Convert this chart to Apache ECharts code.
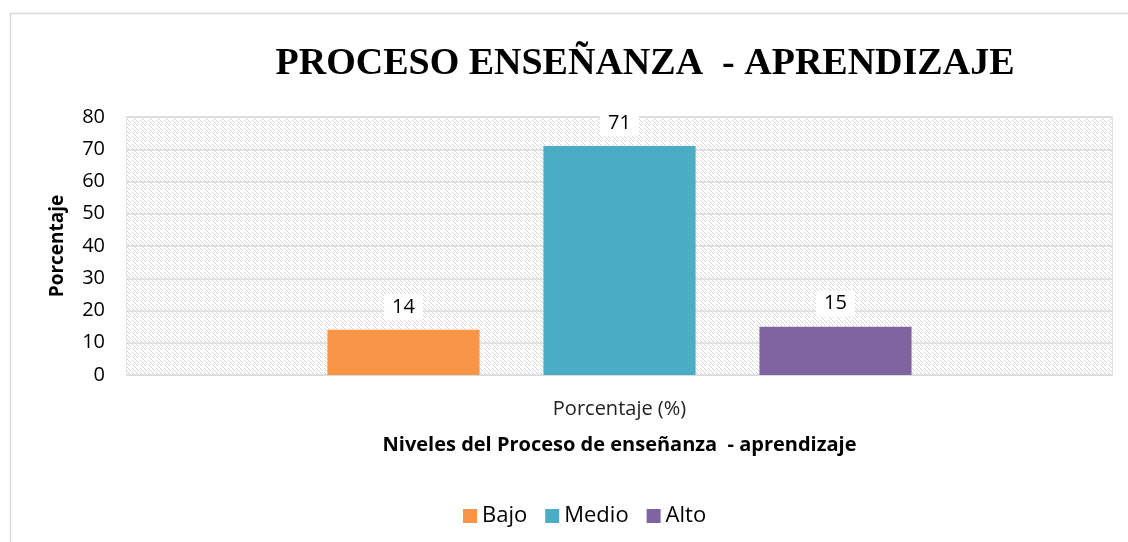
<!DOCTYPE html>
<html>
<head>
<meta charset="utf-8">
<script src="https://cdn.jsdelivr.net/npm/echarts@6/dist/echarts.min.js"></script>
<style>
  html, body { margin: 0; padding: 0; background: #fff; }
  #chart { width: 1128px; height: 542px; }
</style>
</head>
<body>
<div id="chart"></div>
<script>
  var categories = ['Porcentaje (%)'];
  var seriesNames = ['Bajo', 'Medio', 'Alto'];
  var seriesValues = [[14], [71], [15]];
  var seriesColors = ['#f79646', '#4bacc6', '#8064a2'];
  var yTicks = { min: 0, max: 80, interval: 10 };

  // hatch pattern for the plot background
  var pat = document.createElement('canvas');
  pat.width = 8; pat.height = 8;
  var ctx = pat.getContext('2d');
  ctx.fillStyle = '#ffffff';
  ctx.fillRect(0, 0, 8, 8);
  ctx.strokeStyle = '#d4d4d4';
  ctx.lineWidth = 1;
  ctx.beginPath();
  ctx.moveTo(0, 0); ctx.lineTo(3, 3);
  ctx.moveTo(4, 4); ctx.lineTo(8, 8);
  ctx.moveTo(4, 0); ctx.lineTo(8, 4);
  ctx.moveTo(0, 4); ctx.lineTo(2, 6);
  ctx.stroke();

  var series = seriesNames.map(function (name, i) {
    return {
      name: name,
      type: 'bar',
      data: seriesValues[i],
      barGap: '42%',
      barCategoryGap: '40.7%',
      itemStyle: { color: seriesColors[i] },
      label: {
        show: true,
        position: 'top',
        distance: 10,
        color: '#000',
        fontSize: 20,
        fontFamily: 'Open Sans',
        backgroundColor: '#fff',
        padding: [3, 8]
      }
    };
  });

  var myChart = echarts.init(document.getElementById('chart'));
  myChart.setOption({
    animation: false,
    title: {
      text: 'PROCESO ENSEÑANZA  - APRENDIZAJE',
      left: 640,
      top: 40,
      textAlign: 'center',
      textStyle: {
        fontFamily: 'Liberation Serif',
        fontWeight: 'bold',
        fontSize: 38,
        color: '#000'
      }
    },
    graphic: [{
      type: 'rect',
      shape: { x: 10.5, y: 13.5, width: 1130, height: 540 },
      style: { fill: null, stroke: '#d9d9d9', lineWidth: 1.5 },
      z: -1
    }],
    legend: {
      bottom: 10,
      left: 458,
      icon: 'rect',
      itemWidth: 14,
      itemHeight: 14,
      itemGap: 18,
      textStyle: { fontSize: 22, fontFamily: 'Open Sans', color: '#000' },
      data: seriesNames
    },
    grid: {
      left: 127,
      right: 16,
      top: 117,
      bottom: 167,
      show: true,
      borderColor: '#d9d9d9',
      borderWidth: 1.5,
      backgroundColor: 'transparent'
    },
    xAxis: {
      type: 'category',
      data: categories,
      axisLine: { show: false },
      axisTick: { show: false },
      axisLabel: { fontSize: 20, fontFamily: 'Open Sans', color: '#222', margin: 24 },
      name: 'Niveles del Proceso de enseñanza  - aprendizaje',
      nameLocation: 'middle',
      nameGap: 60,
      nameTextStyle: { fontSize: 20, fontWeight: 'bold', fontFamily: 'Open Sans', color: '#000' }
    },
    yAxis: {
      type: 'value',
      min: yTicks.min,
      max: yTicks.max,
      interval: yTicks.interval,
      axisLabel: { fontSize: 20, fontFamily: 'Open Sans', color: '#000', margin: 22 },
      splitLine: { lineStyle: { color: '#d9d9d9', width: 1.5 } },
      splitArea: { show: true, areaStyle: { color: [{ image: pat, repeat: 'repeat' }] } },
      name: 'Porcentaje',
      nameLocation: 'middle',
      nameGap: 60,
      nameTextStyle: { fontSize: 19, fontWeight: 'bold', fontFamily: 'Open Sans', color: '#000' }
    },
    series: series
  });
</script>
</body>
</html>
